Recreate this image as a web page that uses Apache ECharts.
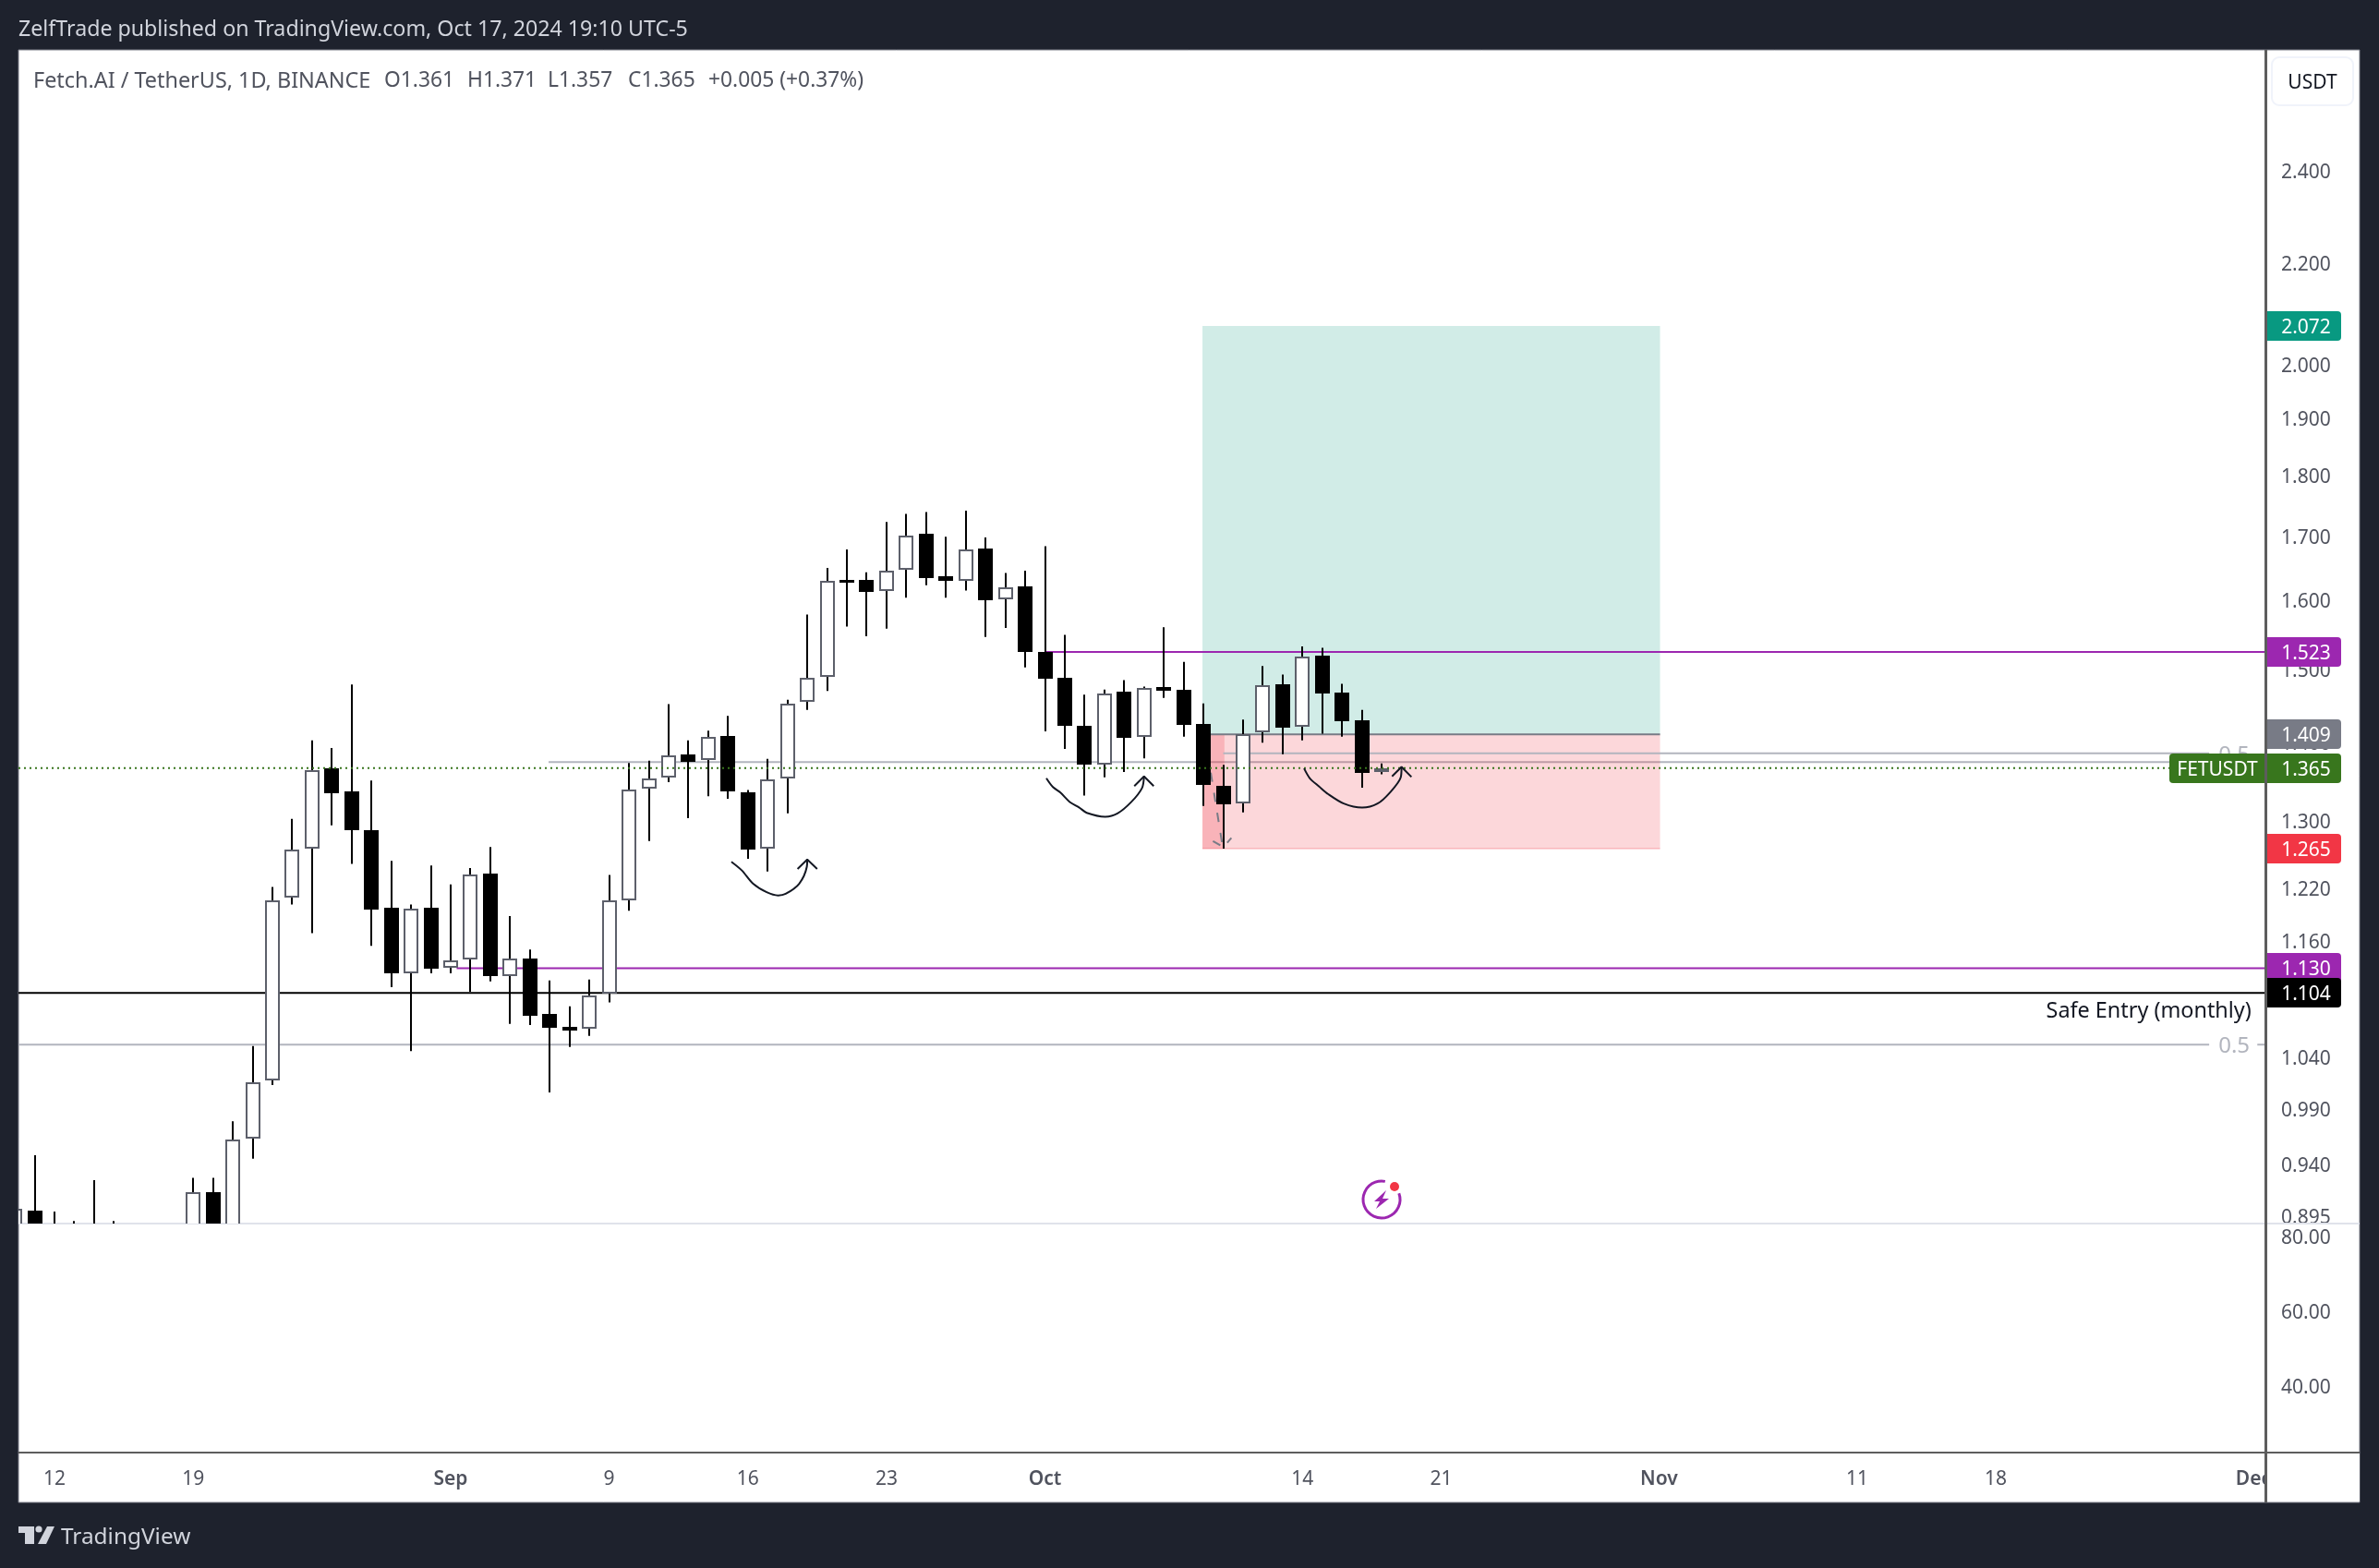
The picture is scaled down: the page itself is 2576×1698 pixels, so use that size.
<!DOCTYPE html>
<html>
<head>
<meta charset="utf-8">
<title>FETUSDT</title>
<style>html,body{margin:0;padding:0;background:#1e222d}#c{width:2576px;height:1698px}</style>
<script src="https://cdn.jsdelivr.net/npm/echarts@6/dist/echarts.min.js"></script>
</head>
<body>
<div id="c"></div>
<script>
// ---- data ----
const firstDay = -2; // day numbers count from Aug 12
const opens = [.872,.899,.875,.872,.875,.870,.874,.870,.868,.875,.915,.880,.962,1.016,1.208,1.265,1.3645,1.335,1.287,1.196,1.125,1.196,1.130,1.139,1.2355,1.1215,1.140,1.082,1.069,1.067,1.103,1.205,1.339,1.353,1.383,1.375,1.4075,1.3346,1.265,1.3516,1.453,1.4875,1.630,1.630,1.613,1.646,1.703,1.636,1.629,1.680,1.601,1.620,1.523,1.486,1.420,1.370,1.467,1.406,1.4735,1.469,1.423,1.342,1.320,1.4115,1.477,1.419,1.518,1.466,1.428,1.361];
const highs = [.901,.947,.898,.890,.925,.890,.882,.880,.884,.927,.927,.978,1.050,1.220,1.301,1.401,1.391,1.477,1.349,1.2505,1.200,1.245,1.223,1.242,1.267,1.187,1.150,1.117,1.090,1.118,1.234,1.3715,1.3746,1.450,1.401,1.414,1.434,1.337,1.377,1.456,1.578,1.649,1.678,1.642,1.722,1.735,1.738,1.698,1.7405,1.697,1.641,1.6445,1.683,1.548,1.463,1.470,1.483,1.474,1.559,1.509,1.451,1.369,1.429,1.503,1.491,1.531,1.529,1.478,1.442,1.371];
const lows = [.865,.860,.860,.860,.860,.860,.860,.855,.860,.865,.870,.875,.944,1.012,1.200,1.168,1.293,1.247,1.154,1.110,1.045,1.1245,1.1245,1.105,1.116,1.072,1.071,1.005,1.049,1.060,1.094,1.193,1.274,1.347,1.302,1.329,1.326,1.253,1.238,1.308,1.442,1.468,1.560,1.546,1.557,1.603,1.622,1.603,1.614,1.545,1.558,1.501,1.413,1.390,1.330,1.353,1.360,1.3775,1.4585,1.406,1.317,1.265,1.309,1.398,1.383,1.401,1.410,1.406,1.340,1.357];
const closes = [.900,.872,.872,.875,.870,.874,.870,.868,.875,.915,.880,.961,1.015,1.205,1.264,1.362,1.333,1.287,1.194,1.1245,1.195,1.129,1.138,1.234,1.1215,1.140,1.080,1.068,1.065,1.101,1.205,1.3375,1.352,1.381,1.373,1.406,1.335,1.264,1.350,1.451,1.486,1.629,1.629,1.612,1.6445,1.700,1.633,1.629,1.678,1.600,1.619,1.523,1.485,1.421,1.3695,1.465,1.405,1.472,1.468,1.422,1.343,1.319,1.410,1.476,1.418,1.517,1.465,1.427,1.359,1.365];

const priceTicks = [2.4,2.2,2.0,1.9,1.8,1.7,1.6,1.5,1.4,1.3,1.22,1.16,1.1,1.04,0.99,0.94,0.895];
const lowerTicks = [80,60,40];
const timeTickDays = [0,7,20,28,35,42,50,63,70,81,91,98,111];
const timeTickLabels = ['12','19','Sep','9','16','23','Oct','14','21','Nov','11','18','Dec'];

const positionDays = [57.95,59.06,81.05];   // start, last touched, end
const positionPrices = [2.072,1.409,1.265]; // target, entry, stop
const resistanceLevel = 1.523;
const supportLevel = 1.130;
const safeEntryLevel = 1.104;
const lastPrice = 1.365;
const fibLevelLow = 1.0513;
const fibLevelMid = 1.3727;
const fibLevelHigh = 1.3841;

const curveA = [[34.17,1.2494],[34.70,1.2392],[35.27,1.2237],[35.95,1.2140],[36.53,1.2103],[36.91,1.2121],[37.59,1.2237],[37.98,1.2436],[38.0,1.2521]];
const arrowA = [[37.51,1.2410],[38.0,1.2521],[38.5,1.2410]];
const curveB = [[50.07,1.3519],[50.4,1.3407],[50.78,1.3337],[51.25,1.3220],[51.72,1.3152],[52.11,1.3085],[53.04,1.3037],[53.66,1.3077],[54.36,1.3220],[54.9,1.3395],[55.0,1.3543]];
const arrowB = [[54.51,1.3419],[55.0,1.3543],[55.49,1.3419]];
const curveC = [[63.08,1.3645],[63.37,1.3519],[63.84,1.3414],[64.3,1.3317],[65.08,1.3200],[66.01,1.3149],[66.79,1.3200],[67.41,1.3337],[67.96,1.3531],[68.0,1.3665]];
const arrowC = [[67.52,1.3543],[68.0,1.3665],[68.5,1.3535]];
const targetPath = [[58.37,1.3590],[58.97,1.2673]];
const targetHeadLeft = [[58.48,1.2741],[58.85,1.2690]];
const targetHeadRight = [[59.41,1.2779],[59.2,1.2720]];

const headerText = 'ZelfTrade published on TradingView.com, Oct 17, 2024 19:10 UTC-5';
const legendName = 'Fetch.AI / TetherUS, 1D, BINANCE';
const legendValues = ['O1.361','H1.371','L1.357','C1.365','+0.005 (+0.37%)'];

// ---- layout and styles ----
const FONT = '"Noto Sans"';
const PANEL = {l:20,t:54,r:2555,b:1627};
const AXIS_X = 2453, SPLIT_Y = 1325, TIME_Y = 1573;
const DAY0_X = 59, DAY_W = 21.45;
const xMin = (PANEL.l - DAY0_X) / DAY_W, xMax = (AXIS_X - DAY0_X) / DAY_W;
const yMinPrice = 0.8879, yMaxPrice = 2.689;
const DARK = '#1e222d', PURPLE = '#9c27b0', GREY = '#b2b5be', GREEN = '#38761d';
const TEXTC = '#50535e';
const LEGEND_VALUE_X = [416,506,593,680,767];

const candles = opens.map((o,i)=>[firstDay+i,o,highs[i],lows[i],closes[i]]);

function renderCandle(params, api){
  const day = api.value(0), o = api.value(1), h = api.value(2), l = api.value(3), c = api.value(4);
  const x = Math.round(api.coord([day,o])[0]);
  const yo = api.coord([day,o])[1], yc = api.coord([day,c])[1];
  const yh = api.coord([day,h])[1], yl = api.coord([day,l])[1];
  const up = c >= o;
  const top = Math.round(Math.min(yo,yc)), bot = Math.round(Math.max(yo,yc));
  const wick = {type:'rect',shape:{x:x-1,y:yh,width:2,height:yl-yh},style:{fill:'#000'}};
  const body = up
    ? {type:'rect',shape:{x:x-7,y:top+1,width:14,height:Math.max(bot-top-2,2)},style:{fill:'#fff',stroke:'#5d606b',lineWidth:2}}
    : {type:'rect',shape:{x:x-8,y:top,width:16,height:Math.max(bot-top,3)},style:{fill:'#000'}};
  return {type:'group',children:[wick,body]};
}

function renderPosition(params, api){
  const s = api.coord([positionDays[0],positionPrices[0]]);
  const t = api.coord([positionDays[1],positionPrices[1]]);
  const e = api.coord([positionDays[2],positionPrices[2]]);
  const x0 = s[0], x1 = e[0], xt = t[0];
  const yT = s[1], yE = t[1], yS = e[1];
  return {type:'group',children:[
    {type:'rect',shape:{x:x0,y:yT,width:x1-x0,height:yE-yT},style:{fill:'rgba(8,153,129,0.19)'}},
    {type:'rect',shape:{x:x0,y:yE,width:x1-x0,height:yS-yE},style:{fill:'rgba(242,54,69,0.2)'}},
    {type:'rect',shape:{x:x0,y:yE,width:xt-x0,height:yS-yE},style:{fill:'rgba(242,54,69,0.22)'}},
    {type:'rect',shape:{x:x0,y:yE-1,width:x1-x0,height:2},style:{fill:'#787b86'}},
    {type:'rect',shape:{x:x0,y:yS-1,width:x1-x0,height:2},style:{fill:'rgba(242,54,69,0.2)'}}
  ]};
}

const TAG_TEXT_DY = 2;
const tagData = [
  [positionPrices[0],'#089981','#fff'],
  [resistanceLevel,PURPLE,'#fff'],
  [positionPrices[1],'#787b86','#fff'],
  [lastPrice,GREEN,'#fff'],
  [positionPrices[2],'#f23645','#fff'],
  [supportLevel,PURPLE,'#fff'],
  [safeEntryLevel,'#000','#fff']
];
function renderTag(params, api){
  const d = tagData[params.dataIndex], price = d[0];
  const y = Math.round(api.coord([0,price])[1]);
  const x = params.coordSys.x + params.coordSys.width + 2;
  const kids = [
    {type:'rect',shape:{x:x,y:y-16,width:80,height:32,r:[0,4,4,0]},style:{fill:d[1]}},
    {type:'text',style:{text:price.toFixed(3),x:x+42,y:y+TAG_TEXT_DY,fill:d[2],font:'21px '+FONT,align:'center',verticalAlign:'middle',textAlign:'center',textVerticalAlign:'middle'}}
  ];
  if (price === lastPrice) {
    kids.push({type:'rect',shape:{x:x-106,y:y-16,width:104,height:32,r:[4,0,0,4]},style:{fill:GREEN}});
    kids.push({type:'text',style:{text:'FETUSDT',x:x-54,y:y+TAG_TEXT_DY,fill:'#fff',font:'21px '+FONT,align:'center',verticalAlign:'middle',textAlign:'center',textVerticalAlign:'middle'}});
  }
  return {type:'group',children:kids};
}

const noteData = [
  [110.9,safeEntryLevel,'Safe Entry (monthly)','#131722','23.4px',20,'right'],
  [110.03,fibLevelLow,'0.5',GREY,'24px',2,'center'],
  [110.03,fibLevelHigh,'0.5',GREY,'24px',2,'center']
];
function renderNote(params, api){
  const d = noteData[params.dataIndex];
  const p = api.coord([d[0],d[1]]);
  return {type:'text',style:{text:d[2],x:p[0],y:p[1]+d[5],fill:d[3],font:d[4]+' '+FONT,align:d[6],verticalAlign:'middle',textAlign:d[6],textVerticalAlign:'middle'}};
}

function lineSeries(points, color, width, z, extra){
  return Object.assign({
    type:'line',xAxisIndex:0,yAxisIndex:0,data:points,showSymbol:false,symbol:'none',silent:true,z:z,animation:false,
    lineStyle:{color:color,width:width}
  }, extra||{});
}

const series = [
  lineSeries([[24.94,fibLevelMid],[xMax,fibLevelMid]],GREY,2,1),
  {type:'custom',xAxisIndex:0,yAxisIndex:0,renderItem:renderPosition,data:[[positionDays[0],positionPrices[0]]],z:2,silent:true,clip:true,animation:false},
  lineSeries([[xMin,fibLevelLow],[108.77,fibLevelLow]],GREY,2,3),
  lineSeries([[111.2,fibLevelLow],[xMax,fibLevelLow]],GREY,2,3),
  lineSeries([[59.0,fibLevelHigh],[108.77,fibLevelHigh]],GREY,2,3),
  lineSeries([[50.0,resistanceLevel],[xMax,resistanceLevel]],PURPLE,2,3),
  lineSeries([[20.3,supportLevel],[xMax,supportLevel]],PURPLE,2,3),
  lineSeries([[xMin,safeEntryLevel],[xMax,safeEntryLevel]],'#000',2,3),
  {type:'custom',xAxisIndex:0,yAxisIndex:0,renderItem:renderCandle,data:candles,encode:{x:0,y:[1,2,3,4]},z:5,clip:true,silent:true,animation:false},
  lineSeries([[xMin,lastPrice],[xMax,lastPrice]],GREEN,2,6,{lineStyle:{color:GREEN,width:2,type:[2,4]}}),
  lineSeries(curveA,'#131722',2,7,{smooth:0.3}),
  lineSeries(arrowA,'#131722',2,7),
  lineSeries(curveB,'#131722',2,7,{smooth:0.3}),
  lineSeries(arrowB,'#131722',2,7),
  lineSeries(curveC,'#131722',2,7,{smooth:0.3}),
  lineSeries(arrowC,'#131722',2,7),
  lineSeries(targetPath,'#787b86',2,4,{lineStyle:{color:'#787b86',width:2,type:[10,12]}}),
  lineSeries(targetHeadLeft,'#787b86',2,7),
  lineSeries(targetHeadRight,'#787b86',2,7),
  {type:'custom',xAxisIndex:0,yAxisIndex:0,renderItem:renderNote,data:noteData.map(d=>[d[0],d[1]]),z:8,silent:true,clip:false,animation:false},
  {type:'custom',xAxisIndex:0,yAxisIndex:0,renderItem:renderTag,data:tagData.map(d=>[0,d[0]]),encode:{x:0,y:1},z:10,silent:true,clip:false,animation:false}
];

function rect(x,y,w,h,fill,z,extra){ return Object.assign({type:'rect',shape:{x:x,y:y,width:w,height:h},style:{fill:fill},z:z,silent:true},extra||{}); }
function txt(text,x,y,fill,font,z,align){ return {type:'text',x:x,y:y,z:z,silent:true,style:{text:text,fill:fill,font:font,textAlign:align||'left',textVerticalAlign:'middle',align:align||'left',verticalAlign:'middle'}}; }

const graphics = [
  {type:'rect',shape:{x:PANEL.l,y:PANEL.t,width:PANEL.r-PANEL.l,height:PANEL.b-PANEL.t},style:{fill:'#fff',stroke:'#787b86',lineWidth:1},z:-5,silent:true},
  // clip strip right of the time axis so the last label is cut at the price axis
  rect(AXIS_X,TIME_Y+1,PANEL.r-AXIS_X,PANEL.b-TIME_Y-2,'#fff',50),
  rect(PANEL.l,SPLIT_Y-1,PANEL.r-PANEL.l,2,'#e0e3eb',4),
  rect(PANEL.l,TIME_Y-1,PANEL.r-PANEL.l,2,'#5d5d5d',60),
  rect(AXIS_X-1,PANEL.t,3,PANEL.b-PANEL.t,'#5d5d5d',60),
  txt(headerText,20,32,'#d1d4dc','23.2px '+FONT,60),
  txt(legendName,36,88,TEXTC,'23.4px '+FONT,60)
].concat(legendValues.map((s,i)=>txt(s,LEGEND_VALUE_X[i],88,TEXTC,'22.8px '+FONT,60))).concat([
  {type:'rect',shape:{x:2460,y:62,width:88,height:52,r:8},style:{fill:'#fff',stroke:'#f0f3fa',lineWidth:2},z:60,silent:true},
  txt('USDT',2504,90,'#131722','21px '+FONT,61,'center'),
  // TradingView logo
  {type:'polygon',shape:{points:[[20,1653],[37,1653],[37,1672],[27,1672],[27,1660],[20,1660]]},style:{fill:'#d1d4dc'},z:60,silent:true},
  {type:'circle',shape:{cx:42,cy:1656,r:3.6},style:{fill:'#d1d4dc'},z:60,silent:true},
  {type:'polygon',shape:{points:[[51,1653],[59,1653],[50,1672],[41,1672]]},style:{fill:'#d1d4dc'},z:60,silent:true},
  txt('TradingView',66,1665,'#d1d4dc','24.4px '+FONT,60),
  // publish-idea badge
  {type:'arc',shape:{cx:1496,cy:1299,r:20,startAngle:-20*Math.PI/180,endAngle:281*Math.PI/180,clockwise:true},style:{stroke:PURPLE,lineWidth:3,fill:'none'},z:60,silent:true},
  {type:'polygon',shape:{points:[[1501,1289],[1488,1301],[1494,1301],[1490,1309],[1504,1298],[1497,1298]]},style:{fill:PURPLE},z:60,silent:true},
  {type:'circle',shape:{cx:1510,cy:1285,r:5},style:{fill:'#f23645'},z:60,silent:true}
]);

const tickRich = {t:{color:TEXTC,fontSize:21,fontFamily:FONT,padding:[6,0,0,0]}};
const chart = echarts.init(document.getElementById('c'),null,{width:2576,height:1698,renderer:'canvas',devicePixelRatio:1});
chart.setOption({
  animation:false,
  backgroundColor:DARK,
  textStyle:{fontFamily:FONT},
  grid:[
    {left:PANEL.l,top:PANEL.t,width:AXIS_X-PANEL.l,height:SPLIT_Y-PANEL.t,containLabel:false},
    {left:PANEL.l,top:SPLIT_Y,width:AXIS_X-PANEL.l,height:TIME_Y-SPLIT_Y,containLabel:false}
  ],
  xAxis:[
    {type:'value',gridIndex:0,min:xMin,max:xMax,show:false,splitLine:{show:false},axisPointer:{show:false}},
    {type:'value',gridIndex:1,min:xMin,max:xMax,position:'bottom',splitLine:{show:false},axisLine:{show:false},axisTick:{show:false},
     axisLabel:{show:true,customValues:timeTickDays,margin:19,color:TEXTC,fontSize:21,fontFamily:FONT,
       formatter:function(v){const i=timeTickDays.indexOf(v);const s=timeTickLabels[i];return isNaN(+s)?'{m|'+s+'}':s;},
       rich:{m:{fontWeight:600,color:TEXTC,fontSize:21,fontFamily:FONT}}}}
  ],
  yAxis:[
    {type:'log',gridIndex:0,min:yMinPrice,max:yMaxPrice,position:'right',splitLine:{show:false},minorSplitLine:{show:false},axisLine:{show:false},axisTick:{show:false},
     axisLabel:{show:true,customValues:priceTicks,margin:17,color:TEXTC,fontSize:21,fontFamily:FONT,align:'left',rich:tickRich,formatter:function(v){return '{t|'+(+v).toFixed(3)+'}';}}},
    {type:'value',gridIndex:1,min:22,max:83.2,position:'right',splitLine:{show:false},axisLine:{show:false},axisTick:{show:false},
     axisLabel:{show:true,customValues:lowerTicks,margin:17,color:TEXTC,fontSize:21,fontFamily:FONT,align:'left',rich:tickRich,formatter:function(v){return '{t|'+(+v).toFixed(2)+'}';}}}
  ],
  series:series,
  graphic:{elements:graphics}
});
</script>
</body>
</html>
